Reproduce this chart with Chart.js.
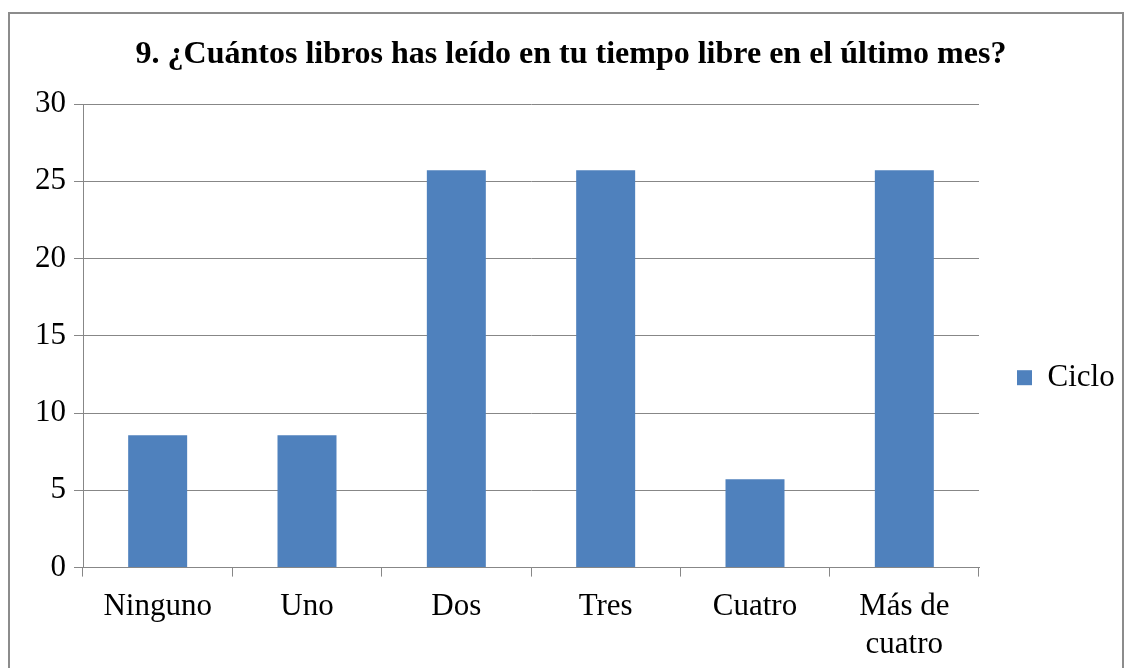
<!DOCTYPE html>
<html>
<head>
<meta charset="utf-8">
<script src="https://cdn.jsdelivr.net/npm/chart.js@4.4.0/dist/chart.umd.min.js"></script>
<style>
    body { margin: 0; background: #fff; }
    #cadre { position: absolute; left: 8px; top: 12px; width: 1112px; height: 700px; border: 2px solid #8c8c8c; }
    #zone { position: absolute; left: 0; top: 0; width: 1131px; height: 668px; }
</style>
</head>
<body>
<div id="cadre"></div>
<div id="zone"><canvas id="graphique" width="1131" height="668"></canvas></div>
<script>
    // Données
    const categories = ['Ninguno', 'Uno', 'Dos', 'Tres', 'Cuatro', ['Más de', 'cuatro']];
    const ciclo = [8.57, 8.57, 25.71, 25.71, 5.71, 25.71];
    const titre = '9. ¿Cuántos libros has leído en tu tiempo libre en el último mes?';
    const nomSerie = 'Ciclo';

    const police = 'Liberation Serif, Times New Roman, serif';
    const gris = '#878787';

    // Largeur fixe pour la légende (place à droite du graphique)
    const largeurLegende = {
        id: 'largeurLegende',
        beforeLayout(chart) {
            const legende = chart.legend;
            if (legende && !legende._largeurFixe) {
                const fitOrigine = legende.fit;
                legende.fit = function () {
                    fitOrigine.call(this);
                    this.width = 136;
                };
                legende._largeurFixe = true;
            }
        }
    };

    const ctx = document.getElementById('graphique');

    new Chart(ctx, {
        type: 'bar',
        data: {
            labels: categories,
            datasets: [{
                label: nomSerie,
                data: ciclo,
                backgroundColor: '#4f81bd',
                borderWidth: 0,
                barPercentage: 0.395,
                categoryPercentage: 1
            }]
        },
        options: {
            responsive: false,
            animation: false,
            layout: {
                padding: { left: 27, right: 16, top: 0, bottom: -7 }
            },
            plugins: {
                title: {
                    display: true,
                    text: titre,
                    color: '#000',
                    font: { family: police, size: 32, weight: 'bold' },
                    padding: { top: 36, bottom: 29.6 }
                },
                legend: {
                    position: 'right',
                    title: {
                        display: true,
                        text: '',
                        padding: { top: 66, bottom: 0 }
                    },
                    labels: {
                        color: '#000',
                        font: { family: police, size: 31 },
                        boxWidth: 15,
                        boxHeight: 15,
                        padding: 38
                    }
                },
                tooltip: { enabled: false }
            },
            scales: {
                x: {
                    grid: {
                        display: true,
                        drawOnChartArea: false,
                        drawTicks: true,
                        tickLength: 9,
                        color: gris,
                        offset: true
                    },
                    border: { color: gris },
                    ticks: {
                        color: '#000',
                        font: { family: police, size: 31 },
                        padding: 12,
                        maxRotation: 0
                    }
                },
                y: {
                    min: 0,
                    max: 30,
                    ticks: {
                        stepSize: 5,
                        color: '#000',
                        font: { family: police, size: 31 },
                        padding: 8
                    },
                    grid: {
                        color: gris,
                        tickLength: 9
                    },
                    border: { color: gris }
                }
            }
        },
        plugins: [largeurLegende]
    });
</script>
</body>
</html>
